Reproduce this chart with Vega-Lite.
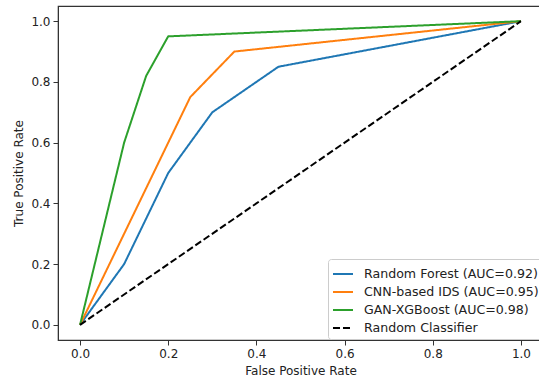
{
  "$schema": "https://vega.github.io/schema/vega-lite/v6.json",
  "width": 485,
  "height": 334,
  "autosize": "none",
  "padding": {"left": 58, "top": 6, "right": 0, "bottom": 39},
  "background": "white",
  "config": {
    "font": "DejaVu Sans",
    "view": {"stroke": "#333333", "strokeWidth": 1.2},
    "axis": {
      "grid": false,
      "domainColor": "#333333",
      "tickColor": "#333333",
      "tickSize": 5,
      "labelFontSize": 12,
      "labelColor": "#222222",
      "labelPadding": 3,
      "titleFontSize": 12,
      "titleFontWeight": "normal",
      "titleColor": "#222222"
    }
  },
  "data": {
    "values": [
      {"model": "Random Forest (AUC=0.92)", "fpr": 0.0, "tpr": 0.0},
      {"model": "Random Forest (AUC=0.92)", "fpr": 0.1, "tpr": 0.2},
      {"model": "Random Forest (AUC=0.92)", "fpr": 0.2, "tpr": 0.5},
      {"model": "Random Forest (AUC=0.92)", "fpr": 0.3, "tpr": 0.7},
      {"model": "Random Forest (AUC=0.92)", "fpr": 0.45, "tpr": 0.85},
      {"model": "Random Forest (AUC=0.92)", "fpr": 1.0, "tpr": 1.0},
      {"model": "CNN-based IDS (AUC=0.95)", "fpr": 0.0, "tpr": 0.0},
      {"model": "CNN-based IDS (AUC=0.95)", "fpr": 0.25, "tpr": 0.75},
      {"model": "CNN-based IDS (AUC=0.95)", "fpr": 0.35, "tpr": 0.9},
      {"model": "CNN-based IDS (AUC=0.95)", "fpr": 1.0, "tpr": 1.0},
      {"model": "GAN-XGBoost (AUC=0.98)", "fpr": 0.0, "tpr": 0.0},
      {"model": "GAN-XGBoost (AUC=0.98)", "fpr": 0.1, "tpr": 0.6},
      {"model": "GAN-XGBoost (AUC=0.98)", "fpr": 0.15, "tpr": 0.82},
      {"model": "GAN-XGBoost (AUC=0.98)", "fpr": 0.2, "tpr": 0.95},
      {"model": "GAN-XGBoost (AUC=0.98)", "fpr": 1.0, "tpr": 1.0},
      {"model": "Random Classifier", "fpr": 0.0, "tpr": 0.0},
      {"model": "Random Classifier", "fpr": 1.0, "tpr": 1.0}
    ]
  },
  "mark": {"type": "line", "strokeWidth": 2, "clip": true},
  "encoding": {
    "x": {
      "field": "fpr", "type": "quantitative",
      "scale": {"domain": [-0.05, 1.05], "nice": false, "zero": false},
      "axis": {"values": [0, 0.2, 0.4, 0.6, 0.8, 1.0], "format": ".1f", "title": "False Positive Rate", "titlePadding": 6}
    },
    "y": {
      "field": "tpr", "type": "quantitative",
      "scale": {"domain": [-0.05, 1.05], "nice": false, "zero": false},
      "axis": {"values": [0, 0.2, 0.4, 0.6, 0.8, 1.0], "format": ".1f", "title": "True Positive Rate", "titlePadding": 5}
    },
    "color": {
      "field": "model", "type": "nominal",
      "scale": {
        "domain": ["Random Forest (AUC=0.92)", "CNN-based IDS (AUC=0.95)", "GAN-XGBoost (AUC=0.98)", "Random Classifier"],
        "range": ["#1f77b4", "#ff7f0e", "#2ca02c", "#000000"]
      },
      "legend": {
        "title": null,
        "orient": "none",
        "legendX": 270,
        "legendY": 253,
        "symbolType": "stroke",
        "symbolSize": 400,
        "symbolStrokeWidth": 2,
        "labelFontSize": 12.6,
        "labelLimit": 300,
        "labelColor": "#222222",
        "labelOffset": 10,
        "rowPadding": 0,
        "padding": 4,
        "strokeColor": "#cccccc",
        "fillColor": "white",
        "cornerRadius": 3
      }
    },
    "strokeDash": {
      "field": "model", "type": "nominal",
      "scale": {
        "domain": ["Random Forest (AUC=0.92)", "CNN-based IDS (AUC=0.95)", "GAN-XGBoost (AUC=0.98)", "Random Classifier"],
        "range": [[1, 0], [1, 0], [1, 0], [7, 3]]
      },
      "legend": {"title": null}
    },
    "order": {"field": "fpr"}
  }
}
